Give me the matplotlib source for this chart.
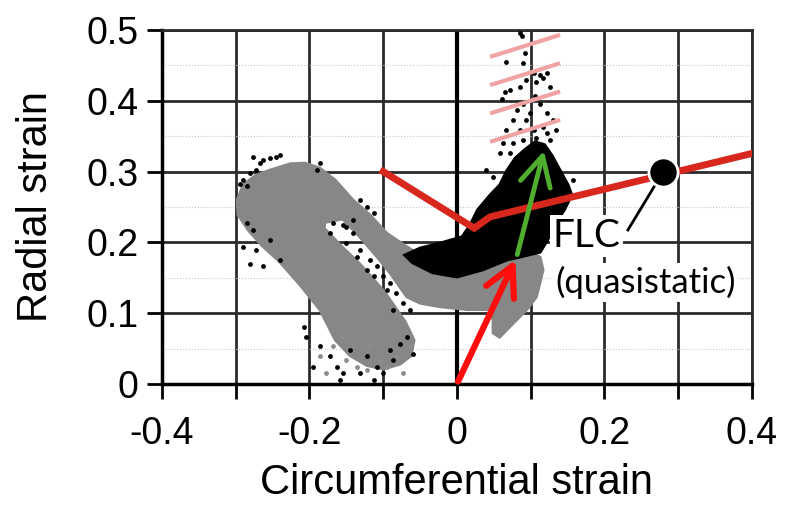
import numpy as np
import matplotlib.pyplot as plt

plt.rcParams['font.family'] = ['Liberation Sans', 'DejaVu Sans']

# outline of the grey point cloud (circumferential, radial strain)
gray_x = [-0.298, -0.290, -0.274, -0.254, -0.226, -0.206, -0.186, -0.165, -0.141, -0.118,
          -0.095, -0.071, -0.050, -0.023, 0.000, 0.031, 0.065, 0.095, 0.113, 0.117,
          0.108, 0.095, 0.072, 0.058, 0.049, 0.049, 0.045, 0.014, -0.023, -0.050,
          -0.068, -0.091, -0.108, -0.132, -0.155, -0.179, -0.180, -0.155, -0.130, -0.098,
          -0.070, -0.058, -0.062, -0.077, -0.100, -0.122, -0.145, -0.165, -0.186, -0.213,
          -0.240, -0.264, -0.283, -0.297]
gray_y = [0.260, 0.281, 0.294, 0.302, 0.311, 0.312, 0.305, 0.288, 0.260, 0.239,
          0.213, 0.196, 0.182, 0.172, 0.167, 0.172, 0.184, 0.189, 0.179, 0.161,
          0.123, 0.105, 0.081, 0.066, 0.072, 0.090, 0.105, 0.105, 0.109, 0.114,
          0.123, 0.157, 0.179, 0.208, 0.233, 0.228, 0.220, 0.193, 0.168, 0.130,
          0.088, 0.062, 0.040, 0.028, 0.021, 0.026, 0.040, 0.062, 0.105, 0.140,
          0.172, 0.195, 0.217, 0.239]

# outline of the dense black point cloud
black_x = [-0.071, -0.050, -0.023, 0.007, 0.018, 0.028, 0.045, 0.058, 0.068, 0.079,
           0.092, 0.106, 0.119, 0.129, 0.140, 0.151, 0.156, 0.146, 0.133, 0.123,
           0.113, 0.085, 0.068, 0.035, 0.000, -0.033, -0.060]
black_y = [0.182, 0.192, 0.199, 0.208, 0.225, 0.246, 0.267, 0.281, 0.302, 0.319,
           0.331, 0.342, 0.338, 0.323, 0.302, 0.281, 0.267, 0.246, 0.225, 0.203,
           0.186, 0.179, 0.175, 0.161, 0.151, 0.157, 0.171]

# scattered black points
dot_x = [0.085, 0.088, 0.067, 0.092, 0.090, 0.065, 0.061, 0.072, 0.085, 0.094,
         0.104, 0.108, 0.113, 0.117, 0.122, 0.126, 0.106, 0.090, 0.081, 0.099,
         0.113, 0.122, 0.131, 0.117, 0.094, 0.076, 0.067, 0.085, 0.104, 0.122,
         0.063, 0.076, 0.090, 0.108, 0.126, 0.135, 0.058, 0.072, 0.049, 0.040, 0.158,
         -0.208, -0.204, -0.186, -0.172, -0.163, -0.154, -0.145, -0.122, -0.109, -0.100,
         -0.113, -0.091, -0.077, -0.068, -0.059, -0.159, -0.195, -0.086, -0.132,
         -0.276, -0.267, -0.263, -0.254, -0.245, -0.240, -0.272, -0.281, -0.290, -0.294,
         -0.285, -0.186, -0.190, -0.132, -0.122, -0.113, -0.285, -0.276, -0.290, -0.272,
         -0.254, -0.240, -0.263, -0.281, -0.141, -0.150,
         -0.168, -0.154, -0.141, -0.172, -0.150, -0.132, -0.118, -0.109, -0.122, -0.100,
         -0.091, -0.082, -0.073, -0.086, -0.064, -0.095, -0.113, -0.136]
dot_y = [0.495, 0.491, 0.455, 0.467, 0.453, 0.413, 0.403, 0.415, 0.420, 0.429,
         0.439, 0.427, 0.436, 0.432, 0.439, 0.420, 0.406, 0.396, 0.387, 0.382,
         0.396, 0.382, 0.373, 0.363, 0.373, 0.373, 0.359, 0.359, 0.359, 0.354,
         0.340, 0.340, 0.345, 0.347, 0.345, 0.359, 0.326, 0.326, 0.293, 0.302, 0.288,
         0.081, 0.067, 0.053, 0.039, 0.024, 0.015, 0.048, 0.039, 0.024, 0.015,
         0.006, 0.048, 0.057, 0.067, 0.043, 0.006, 0.024, 0.034, 0.015,
         0.321, 0.312, 0.316, 0.319, 0.321, 0.323, 0.302, 0.298, 0.288, 0.283,
         0.279, 0.312, 0.302, 0.260, 0.250, 0.241, 0.227, 0.218, 0.194, 0.189,
         0.203, 0.175, 0.166, 0.170, 0.232, 0.222,
         0.227, 0.225, 0.213, 0.213, 0.199, 0.189, 0.175, 0.166, 0.161, 0.152,
         0.142, 0.128, 0.114, 0.105, 0.105, 0.133, 0.152, 0.180]

# scattered grey points
gdot_x = [-0.186, -0.168, -0.150, -0.136, -0.122, -0.104, -0.095, -0.082, -0.064, -0.073,
          -0.177, -0.141, -0.118, -0.154]
gdot_y = [0.039, 0.053, 0.034, 0.024, 0.020, 0.034, 0.024, 0.039, 0.053, 0.015,
          0.015, 0.057, 0.053, 0.067]

# forming limit curve
flc_x = [-0.1, 0.0235, 0.045, 0.402]
flc_y = [0.30, 0.220, 0.236, 0.326]
flc_pt = (0.28, 0.30)

# strain paths
red_path = [(0.0, 0.0), (0.081, 0.179)]
green_path = [(0.081, 0.179), (0.119, 0.333)]

# hatched (failure) region
hatch_x0, hatch_x1 = 0.045, 0.140
hatch_y0 = [0.462, 0.422, 0.382, 0.342]
hatch_y1 = [0.493, 0.453, 0.413, 0.373]

xticks = [-0.4, -0.3, -0.2, -0.1, 0, 0.1, 0.2, 0.3, 0.4]
xtick_labels = ['-0.4', '', '-0.2', '', '0', '', '0.2', '', '0.4']
yticks = [0, 0.1, 0.2, 0.3, 0.4, 0.5]
ytick_labels = ['0', '0.1', '0.2', '0.3', '0.4', '0.5']
yminor = [0.05, 0.15, 0.25, 0.35, 0.45]

fig = plt.figure(figsize=(7.88, 5.07), dpi=100)
ax = fig.add_subplot(111)
fig.subplots_adjust(left=0.2056, right=0.954, top=0.941, bottom=0.2426)

ax.set_xticks(xticks, xtick_labels)
ax.set_yticks(yticks, ytick_labels)
ax.set_yticks(yminor, minor=True)
ax.set_xlim(-0.4, 0.4)
ax.set_ylim(0, 0.5)

ax.grid(which='major', color='#2b2b2b', lw=2, zorder=0)
ax.grid(which='minor', axis='y', color='#c8c8c8', lw=0.8, ls=':', zorder=0)
ax.tick_params(which='major', labelsize=27, length=11, width=2)
ax.tick_params(axis='x', pad=12)
ax.tick_params(axis='y', pad=6)
ax.tick_params(which='minor', length=0)
ax.set_axisbelow(True)
for s in ['left', 'bottom']:
    ax.spines[s].set_linewidth(2.5)
for s in ['top', 'right']:
    ax.spines[s].set_linewidth(2)
    ax.spines[s].set_color('#2b2b2b')
ax.axvline(0, color='black', lw=3, zorder=1)

ax.fill(gray_x, gray_y, color='#878787', ec='#878787', lw=2, zorder=2)
ax.fill(black_x, black_y, color='black', ec='black', lw=2, zorder=3)
ax.scatter(dot_x, dot_y, s=12, color='black', lw=0, zorder=3)
ax.scatter(gdot_x, gdot_y, s=12, color='#8c8c8c', lw=0, zorder=3)

for y0, y1 in zip(hatch_y0, hatch_y1):
    ax.plot([hatch_x0, hatch_x1], [y0, y1], color='#f0a3a3', lw=3, zorder=4,
            solid_capstyle='butt')

ax.plot(flc_x, flc_y, color='#d8281e', lw=5, zorder=5, solid_joinstyle='miter')

ax.annotate('', xy=red_path[1], xytext=red_path[0],
            arrowprops=dict(arrowstyle='->,head_length=1.05,head_width=0.55',
                            color='#ff0d0d', lw=4.5, mutation_scale=20), zorder=6)
ax.annotate('', xy=green_path[1], xytext=green_path[0],
            arrowprops=dict(arrowstyle='->,head_length=1.05,head_width=0.55',
                            color='#4fae2e', lw=3.5, mutation_scale=20), zorder=6)

ax.plot([flc_pt[0], 0.232], [flc_pt[1], 0.2175], color='black', lw=2, zorder=6)
ax.plot(*flc_pt, 'o', ms=21, color='black', mec='white', mew=2, zorder=7)

box = dict(facecolor='white', edgecolor='none', pad=2)
ax.text(0.130, 0.209, 'FLC', fontsize=28, family=['Lato', 'DejaVu Sans'],
        va='center', ha='left', bbox=box, zorder=8)
ax.text(0.133, 0.143, '(quasistatic)', fontsize=25, family=['Lato', 'DejaVu Sans'],
        va='center', ha='left', bbox=box, zorder=8)

ax.set_xlabel('Circumferential strain', fontsize=30, labelpad=8)
ax.set_ylabel('Radial strain', fontsize=30, labelpad=22)

fig.savefig('out.png', dpi=100)
